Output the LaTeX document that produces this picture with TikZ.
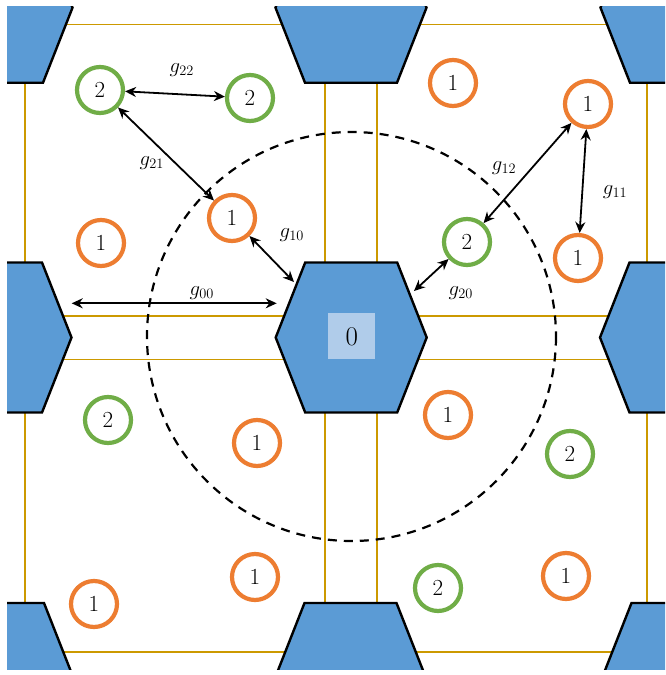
\documentclass[tikz,border=0pt]{standalone}
\usetikzlibrary{arrows.meta}
\definecolor{hexblue}{RGB}{91,155,213}
\definecolor{sqblue}{RGB}{176,204,234}
\definecolor{gridgold}{RGB}{204,153,0}
\definecolor{oneorange}{RGB}{237,125,49}
\definecolor{twogreen}{RGB}{112,173,71}
\begin{document}
\begin{tikzpicture}[x=1pt,y=-1pt,
  cellbox/.style={draw=gridgold,line width=1.6pt},
  hexa/.style={fill=hexblue,draw=black,line width=2.4pt,line join=miter},
  hexpic/.pic={\path[hexa] (-75.5,0) -- (-46,-75) -- (46,-75) -- (75.5,0) -- (46,75) -- (-46,75) -- cycle;},
  ringbase/.style={circle,fill=white,line width=4.2pt,minimum size=46pt,inner sep=0pt,
    font=\fontsize{23}{25}\selectfont},
  onering/.style={ringbase,draw=oneorange},
  tworing/.style={ringbase,draw=twogreen},
  distarrow/.style={{Stealth[length=11pt,width=10pt]}-{Stealth[length=11pt,width=10pt]},line width=1.8pt},
  lbl/.style={font=\fontsize{21}{23}\selectfont,inner sep=0pt},
  cutoff/.style={draw=black,line width=2.2pt,dash pattern=on 9pt off 7pt}]
\useasboundingbox[fill=white] (0,0) rectangle (665,675);
% grid cells
\draw[cellbox] (25,24.3) rectangle (325,316);
\draw[cellbox] (376.7,24.3) rectangle (646.7,316);
\draw[cellbox] (25,359.3) rectangle (325,651.7);
\draw[cellbox] (376.7,359.3) rectangle (646.7,651.7);
% hexagons
\begin{scope}
\clip (7,6) rectangle (665,669.5);
\pic at (-3,7.7) {hexpic};
\pic at (351,7.7) {hexpic};
\pic at (676,7.7) {hexpic};
\pic at (-4,337.5) {hexpic};
\pic at (351.2,337.5) {hexpic};
\pic at (675.5,337.5) {hexpic};
\pic at (-2,678) {hexpic};
\pic at (350.5,678) {hexpic};
\pic at (677.5,678) {hexpic};
\end{scope}
\node[fill=sqblue,minimum width=46.7pt,minimum height=46pt,inner sep=0pt,
  font=\fontsize{27}{29}\selectfont] (zero) at (351.7,336.3) {0};
% cutoff circle
\draw[cutoff] (351.5,336.5) circle[radius=204.5];
% rings
\node[tworing] (a2) at (100,90) {2};
\node[tworing] (b2) at (250,98) {2};
\node[onering] (a1) at (232,218) {1};
\node[onering] (b1) at (101,243) {1};
\node[onering] (c1) at (453,83) {1};
\node[onering] (d1) at (588,104) {1};
\node[tworing] (c2) at (467,242) {2};
\node[onering] (e1) at (578,258) {1};
\node[tworing] (d2) at (108,420) {2};
\node[onering] (f1) at (257,443) {1};
\node[onering] (g1) at (255,577) {1};
\node[onering] (h1) at (94,604) {1};
\node[onering] (i1) at (448,415) {1};
\node[tworing] (e2) at (570,454) {2};
\node[tworing] (f2) at (438,588) {2};
\node[onering] (j1) at (566,576) {1};
% free ends
\coordinate (h10) at (294,282);
\coordinate (h20) at (414,291);
\coordinate (l00) at (71.7,303.3);
\coordinate (r00) at (276.7,303.3);
% arrows
\draw[distarrow] (a2) -- (b2);
\draw[distarrow] (a2) -- (a1);
\draw[distarrow] (a1) -- (h10);
\draw[distarrow] (l00) -- (r00);
\draw[distarrow] (d1) -- (c2);
\draw[distarrow] (d1) -- (e1);
\draw[distarrow] (c2) -- (h20);
% labels
\node[lbl] (t22) at (181.7,70) {$g_{22}$};
\node[lbl] (t21) at (151.7,163.3) {$g_{21}$};
\node[lbl] (t10) at (291.7,235) {$g_{10}$};
\node[lbl] (t00) at (201.7,292.7) {$g_{00}$};
\node[lbl] (t12) at (504,168.3) {$g_{12}$};
\node[lbl] (t11) at (615,191.7) {$g_{11}$};
\node[lbl] (t20) at (460.7,292.7) {$g_{20}$};
\end{tikzpicture}
\end{document}
